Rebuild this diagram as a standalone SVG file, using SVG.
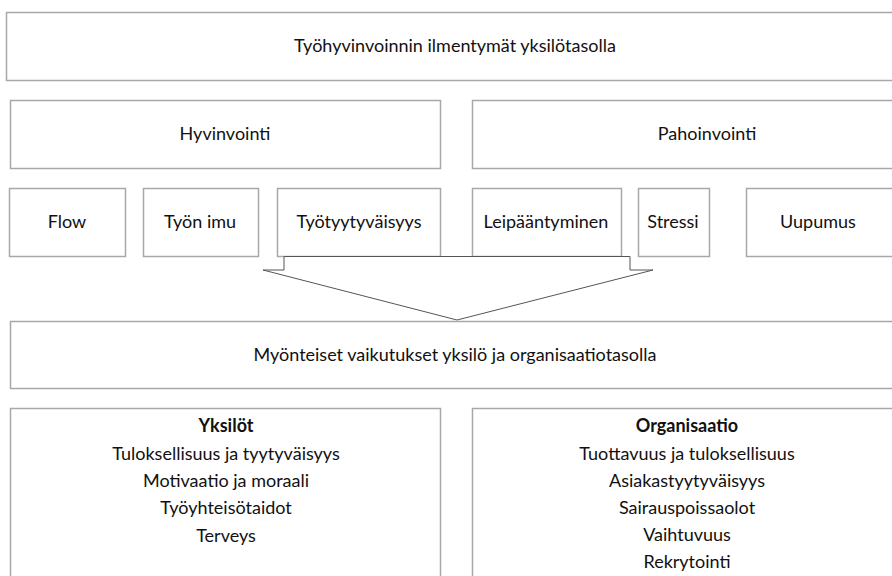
<svg xmlns="http://www.w3.org/2000/svg" width="892" height="576" viewBox="0 0 892 576">
<style>
.box{fill:#ffffff;stroke:#a8a8a8;stroke-width:1.5}
.t{font-family:Lato,"Liberation Sans",sans-serif;font-size:18px;fill:#111;text-anchor:middle}
.b{font-weight:bold}
.arrow{fill:#ffffff;stroke:#555;stroke-width:1}
</style>
<rect width="892" height="576" fill="#ffffff"/>
<g id="top"><rect class="box" x="6.5" y="12.5" width="900" height="68"/><text class="t" x="455" y="52">Työhyvinvoinnin ilmentymät yksilötasolla</text></g>
<g id="hyvinvointi"><rect class="box" x="10.5" y="100.5" width="430" height="68"/><text class="t" x="225" y="140">Hyvinvointi</text></g>
<g id="pahoinvointi"><rect class="box" x="472.5" y="100.5" width="470" height="68"/><text class="t" x="707" y="140">Pahoinvointi</text></g>
<g id="flow"><rect class="box" x="9.5" y="188.5" width="116" height="68"/><text class="t" x="67" y="228">Flow</text></g>
<g id="tyonimu"><rect class="box" x="143.5" y="188.5" width="115" height="68"/><text class="t" x="200" y="228">Työn imu</text></g>
<g id="tyotyytyvaisyys"><rect class="box" x="277.5" y="188.5" width="163" height="68"/><text class="t" x="359" y="228">Työtyytyväisyys</text></g>
<g id="leipaantyminen"><rect class="box" x="472.5" y="188.5" width="149" height="68"/><text class="t" x="546" y="228">Leipääntyminen</text></g>
<g id="stressi"><rect class="box" x="638.5" y="188.5" width="71" height="68"/><text class="t" x="673" y="228">Stressi</text></g>
<g id="uupumus"><rect class="box" x="746.5" y="188.5" width="160" height="68"/><text class="t" x="818" y="228">Uupumus</text></g>
<g id="connectors"><polygon class="arrow" points="284,256.5 284,270 263,270 457,320 653,270 630,270 630,256.5"/></g>
<g id="myonteiset"><rect class="box" x="10.5" y="321.5" width="900" height="67"/><text class="t" x="455" y="361">Myönteiset vaikutukset yksilö ja organisaatiotasolla</text></g>
<g id="yksilot"><rect class="box" x="10.5" y="408.5" width="430" height="190"/>
<text class="t b" x="226" y="432">Yksilöt</text>
<text class="t" x="226" y="460">Tuloksellisuus ja tyytyväisyys</text>
<text class="t" x="226" y="487">Motivaatio ja moraali</text>
<text class="t" x="226" y="514">Työyhteisötaidot</text>
<text class="t" x="226" y="542">Terveys</text></g>
<g id="organisaatio"><rect class="box" x="472.5" y="408.5" width="440" height="190"/>
<text class="t b" x="687" y="432">Organisaatio</text>
<text class="t" x="687" y="460">Tuottavuus ja tuloksellisuus</text>
<text class="t" x="687" y="487">Asiakastyytyväisyys</text>
<text class="t" x="687" y="514">Sairauspoissaolot</text>
<text class="t" x="687" y="541">Vaihtuvuus</text>
<text class="t" x="687" y="568">Rekrytointi</text></g>
</svg>
